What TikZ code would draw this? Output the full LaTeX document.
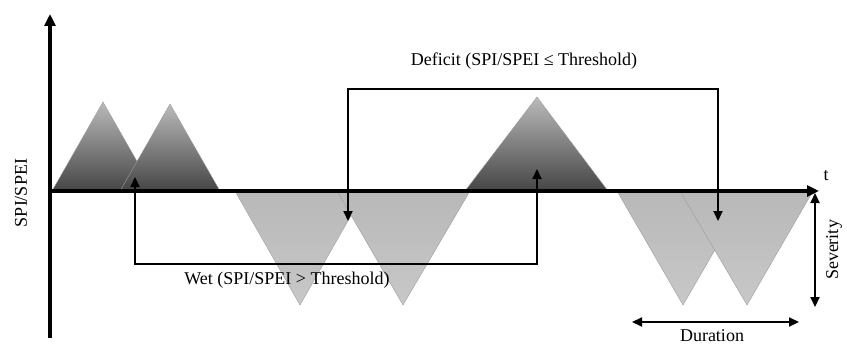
\documentclass[tikz,border=0pt]{standalone}
\usepackage{fontspec}
\setmainfont{Liberation Serif}
\usetikzlibrary{arrows.meta,positioning}
\definecolor{wetTop}  {HTML}{BABABA}
\definecolor{wetBot}  {HTML}{454545}
\definecolor{dryTop}  {HTML}{B8B8B8}
\definecolor{dryBot}  {HTML}{C8C8C8}
\definecolor{edgeGr}  {HTML}{9C9C9C}

\begin{document}
\begin{tikzpicture}[
  x=1pt, y=-1pt,
  every node/.style={font=\fontsize{18}{21}\selectfont, inner sep=1pt},
  wetpk/.style={top color=wetTop, bottom color=wetBot, draw=edgeGr, line width=0.4pt},
  drypk/.style={top color=dryTop, bottom color=dryBot, draw=edgeGr, line width=0.4pt},
  axisln/.style={line width=3.4pt, -{Triangle[length=12pt,width=11pt]}},
  span/.style={line width=2.2pt, {Triangle[length=10pt,width=9pt]}-{Triangle[length=10pt,width=9pt]}}
]
\useasboundingbox (0,0) rectangle (847,345);
% wet and dry spells
\shade[wetpk] (52,191) -- (103,102) -- (154,191) -- cycle;
\shade[wetpk] (120,191) -- (170,104) -- (220,191) -- cycle;
\shade[drypk] (235,191) -- (300,305) -- (365,191) -- cycle;
\shade[drypk] (337,191) -- (403,305) -- (470,191) -- cycle;
\shade[wetpk] (465,191) -- (537,97) -- (608,191) -- cycle;
\shade[drypk] (617,191) -- (683,305) -- (749,191) -- cycle;
\shade[drypk] (680,191) -- (747,305) -- (813,191) -- cycle;
% axes
\coordinate (o) at (50,191);
\coordinate (ytop) at (50,14);
\coordinate (ybot) at (50,338);
\coordinate (tend) at (819,191);
\draw[axisln] (ybot) -- (ytop);
\draw[axisln] (o) -- (tend);
\node (tlab) at (826,176) {t};
\node[rotate=90] (ylab) at (21,193) {SPI/SPEI};
% wet bracket
\coordinate (wetL) at (135,177);
\coordinate (wetR) at (537,169);
\coordinate (wetB) at (0,264);
\draw[span] (wetL) -- (wetL |- wetB) -- (wetR |- wetB) -- (wetR);
\node (wetlab) at (287,280) {Wet (SPI/SPEI > Threshold)};
% deficit bracket
\coordinate (defL) at (348,221);
\coordinate (defR) at (718,221);
\coordinate (defT) at (0,89);
\draw[span] (defL) -- (defL |- defT) -- (defR |- defT) -- (defR);
\node (deflab) at (524,61) {Deficit (SPI/SPEI ≤ Threshold)};
% severity and duration
\coordinate (sevT) at (815,193);
\coordinate (sevB) at (815,307);
\draw[span] (sevT) -- (sevB);
\node[rotate=90] (sevlab) at (834,250) {Severity};
\coordinate (durL) at (632,322);
\coordinate (durR) at (799,322);
\draw[span] (durL) -- (durR);
\node (durlab) at (712,336) {Duration};
\end{tikzpicture}
\end{document}
